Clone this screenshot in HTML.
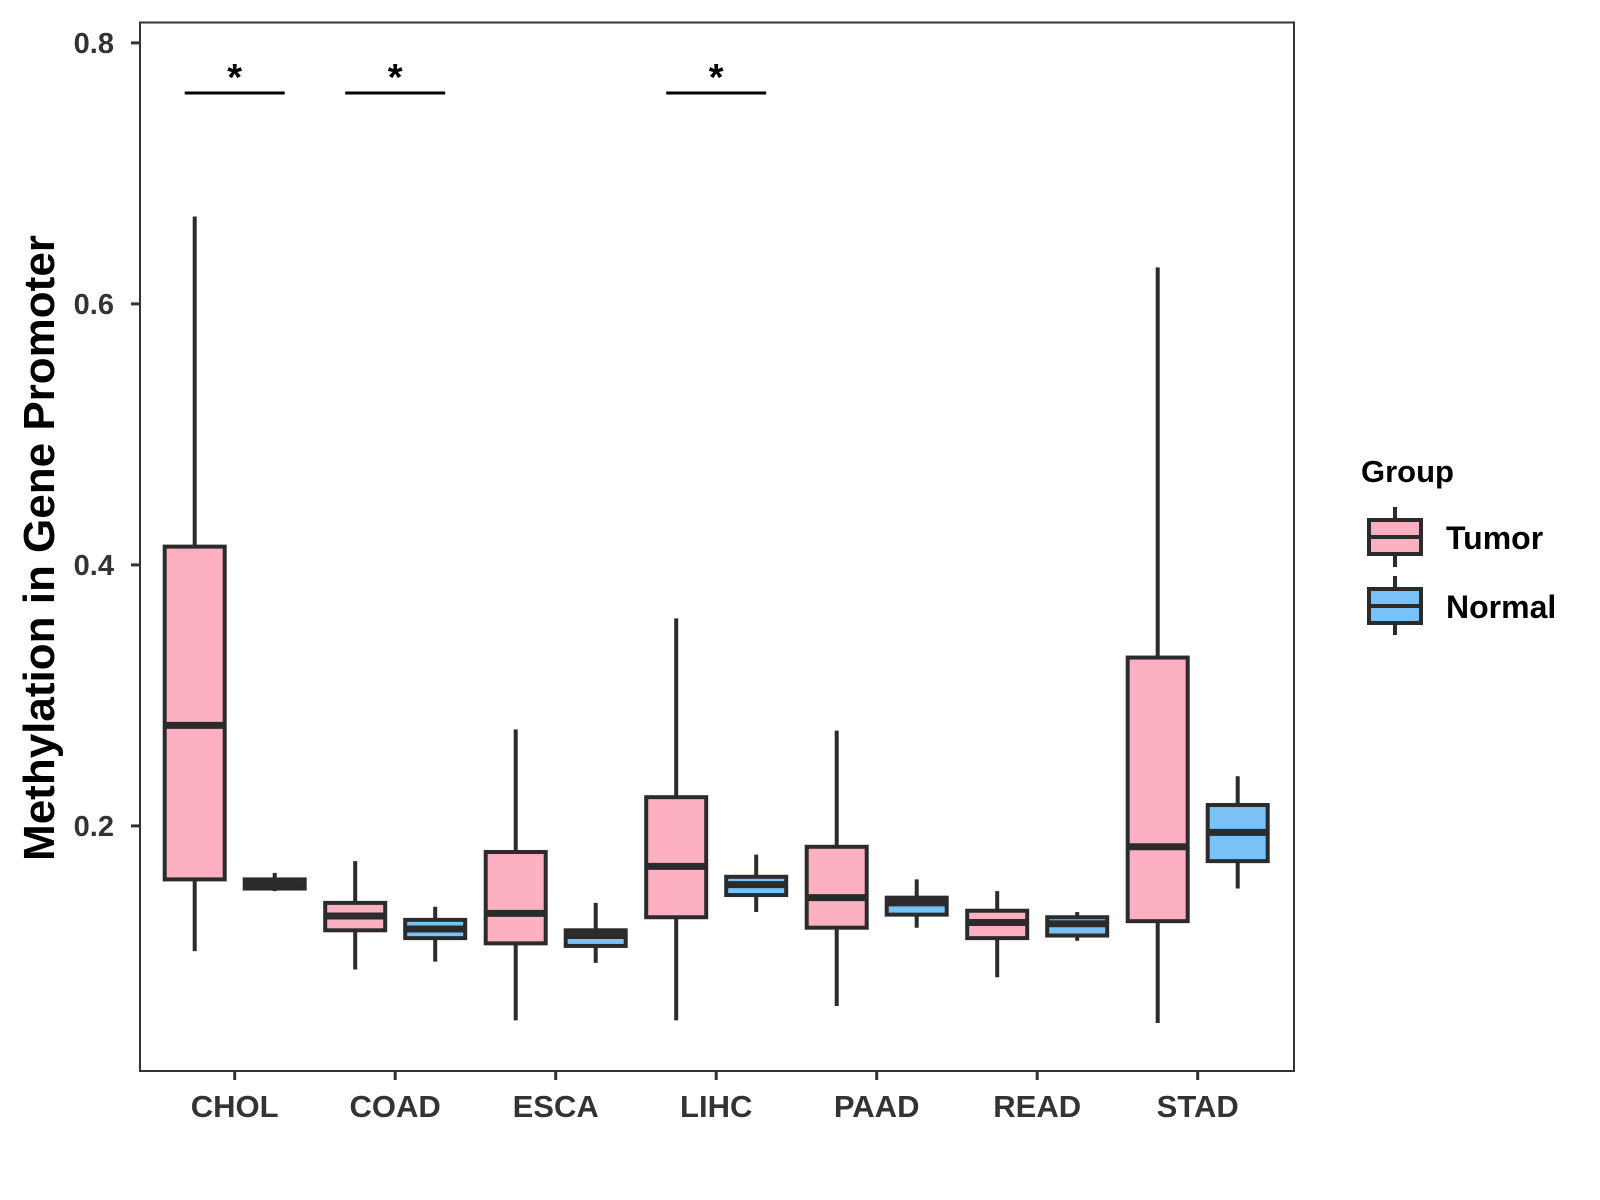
<!DOCTYPE html>
<html><head><meta charset="utf-8"><style>
html,body{margin:0;padding:0;background:#fff}
svg{display:block;font-family:"Liberation Sans",Arial,sans-serif;font-weight:bold}
</style></head><body>
<svg id="chart" width="1600" height="1200" viewBox="0 0 1600 1200">
<rect x="140" y="22.5" width="1154" height="1048.5" fill="#fff" stroke="#333" stroke-width="2"/>
<g id="yaxis"></g>
<g id="xaxis"></g>
<g id="boxes"></g>
<g id="sig"></g>
<text x="54" y="548" transform="rotate(-90 54 548)" text-anchor="middle" font-size="44" fill="#000">Methylation in Gene Promoter</text>
<g>
<text x="1361" y="482" font-size="31" fill="#000">Group</text>
<g>
<line x1="1395" y1="507" x2="1395" y2="567" stroke="#2b2b2b" stroke-width="4"/>
<rect x="1369" y="520" width="52" height="34" fill="#FCB0C1" stroke="#2b2b2b" stroke-width="4"/>
<line x1="1369" y1="537" x2="1421" y2="537" stroke="#2b2b2b" stroke-width="4"/>
<text x="1446" y="549" font-size="32" fill="#000">Tumor</text>
</g>
<g>
<line x1="1395" y1="576" x2="1395" y2="635" stroke="#2b2b2b" stroke-width="4"/>
<rect x="1369" y="589" width="52" height="34" fill="#78C2F7" stroke="#2b2b2b" stroke-width="4"/>
<line x1="1369" y1="606" x2="1421" y2="606" stroke="#2b2b2b" stroke-width="4"/>
<text x="1446" y="618" font-size="32" fill="#000">Normal</text>
</g>
</g>
</svg>
<script>
const categories=["CHOL","COAD","ESCA","LIHC","PAAD","READ","STAD"];
const tumorMin=[0.104,0.090,0.051,0.051,0.062,0.084,0.049];
const tumorQ1=[0.159,0.120,0.110,0.130,0.122,0.114,0.127];
const tumorMed=[0.277,0.131,0.133,0.169,0.145,0.126,0.184];
const tumorQ3=[0.414,0.141,0.180,0.222,0.184,0.135,0.329];
const tumorMax=[0.667,0.173,0.274,0.359,0.273,0.150,0.628];
const normalMin=[0.150,0.096,0.095,0.134,0.122,0.112,0.152];
const normalQ1=[0.152,0.114,0.108,0.147,0.132,0.116,0.173];
const normalMed=[0.155,0.121,0.116,0.155,0.141,0.125,0.195];
const normalQ3=[0.159,0.128,0.120,0.161,0.145,0.130,0.216];
const normalMax=[0.164,0.138,0.141,0.178,0.159,0.134,0.238];
const significant=["CHOL","COAD","LIHC"];
const yTicks=[0.2,0.4,0.6,0.8];

const NS="http://www.w3.org/2000/svg";
function y(v){return 42.9+(0.8-v)*1305;}
function x(i){return 234.7+i*160.5;}
function mk(tag,attrs,parent){const e=document.createElementNS(NS,tag);for(const k in attrs)e.setAttribute(k,attrs[k]);parent.appendChild(e);return e;}
const ya=document.getElementById('yaxis'),xa=document.getElementById('xaxis'),bx=document.getElementById('boxes'),sg=document.getElementById('sig');
yTicks.forEach(t=>{
  const l=mk('line',{x1:131,x2:140,y1:y(t),y2:y(t),stroke:'#333','stroke-width':3},ya);
  
  
  const tx=mk('text',{x:114,y:y(t)+10,'text-anchor':'end','font-size':29,fill:'#333'},ya);
  tx.textContent=t.toFixed(1);
  
  
});
categories.forEach((c,i)=>{
  const l=mk('line',{x1:x(i),x2:x(i),y1:1071,y2:1080,stroke:'#333','stroke-width':3},xa);
  
  
  const tx=mk('text',{x:x(i),y:1117,'text-anchor':'middle','font-size':31,fill:'#333'},xa);
  tx.textContent=c;
  
  
});
function box(cx,mn,q1,md,q3,mx,fill,name){
  const g=mk('g',{},bx);
  
  
  mk('line',{x1:cx,x2:cx,y1:y(mx),y2:y(mn),stroke:'#2b2b2b','stroke-width':4},g);
  mk('rect',{x:cx-30,y:y(q3),width:60,height:Math.max(y(q1)-y(q3),1),fill:fill,stroke:'#2b2b2b','stroke-width':4},g);
  mk('line',{x1:cx-30,x2:cx+30,y1:y(md),y2:y(md),stroke:'#2b2b2b','stroke-width':7},g);
}
categories.forEach((c,i)=>{
  box(x(i)-40,tumorMin[i],tumorQ1[i],tumorMed[i],tumorQ3[i],tumorMax[i],'#FCB0C1','box-tumor-'+c.toLowerCase());
  box(x(i)+40,normalMin[i],normalQ1[i],normalMed[i],normalQ3[i],normalMax[i],'#78C2F7','box-normal-'+c.toLowerCase());
});
significant.forEach(c=>{
  const i=categories.indexOf(c);
  const l=mk('line',{x1:x(i)-50,x2:x(i)+50,y1:93,y2:93,stroke:'#000','stroke-width':3},sg);
  
  
  const t=mk('text',{x:x(i),y:90,'text-anchor':'middle','font-size':38,fill:'#000'},sg);
  t.textContent='*';
  
  
});
</script>
</body></html>
